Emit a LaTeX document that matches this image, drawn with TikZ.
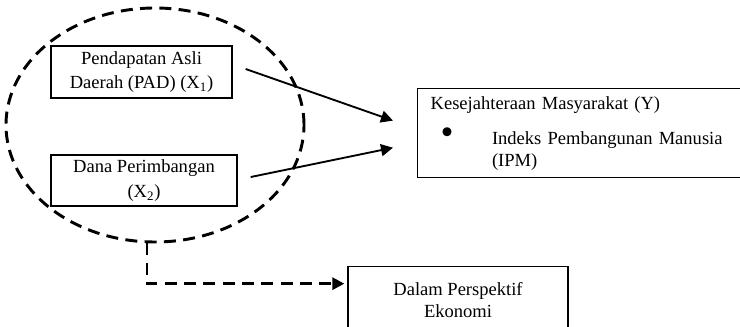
\documentclass[tikz,border=0pt]{standalone}
\usepackage{fontspec}
\setmainfont{Liberation Serif}
\usetikzlibrary{shapes.geometric, arrows.meta, positioning, calc}

\begin{document}
\begin{tikzpicture}[x=0.75pt, y=-0.75pt, font=\fontsize{13.9}{18.5}\selectfont,
  kotak/.style={draw, line width=1pt, inner sep=0pt},
  panah/.style={line width=1.4pt, -{Triangle[length=9pt, width=9pt]}},
  putus/.style={line width=2.2pt, dash pattern=on 9pt off 5.5pt}]
  \useasboundingbox (0,0) rectangle (740,327);
  \node[draw, ellipse, putus, minimum width=223.5pt, minimum height=175.5pt] (grup) at (155,125) {};
  \node[kotak, fill=white, minimum width=135.75pt, minimum height=39pt, align=center] (pad) at (141.5,72) {Pendapatan Asli\\Daerah (PAD) (X\textsubscript{1})};
  \node[kotak, fill=white, minimum width=139.5pt, minimum height=38.25pt, align=center] (dana) at (144,180.5) {Dana Perimbangan\\(X\textsubscript{2})};
  \node[kotak, anchor=north west, minimum height=66.75pt, text width=300pt, inner xsep=9.75pt, align=left] (kesra) at (417,88) {Kesejahteraan Masyarakat (Y)\\[7.75pt]\hspace*{7.5pt}\makebox[38.5pt][l]{\raisebox{-0.6pt}{\scalebox{2}{\textbullet}}}Indeks Pembangunan Manusia\\[-2pt]\hspace*{46pt}(IPM)};
  \node[kotak, anchor=north, minimum width=165pt, minimum height=49.5pt, align=center] (eko) at (458,266) {Dalam Perspektif\\[-2pt]Ekonomi};
  \draw[panah] ([xshift=9.75pt, yshift=2.25pt]pad.east) -- ([xshift=-18pt, yshift=9.4pt]kesra.west);
  \draw[panah] ([xshift=9.75pt, yshift=2.6pt]dana.east) -- ([xshift=-18pt, yshift=-10.9pt]kesra.west);
  \draw[putus, -{Triangle[length=9pt, width=9pt]}] ([xshift=-6pt]grup.south) |- ([xshift=-2.25pt, yshift=12pt]eko.west);
\end{tikzpicture}
\end{document}
